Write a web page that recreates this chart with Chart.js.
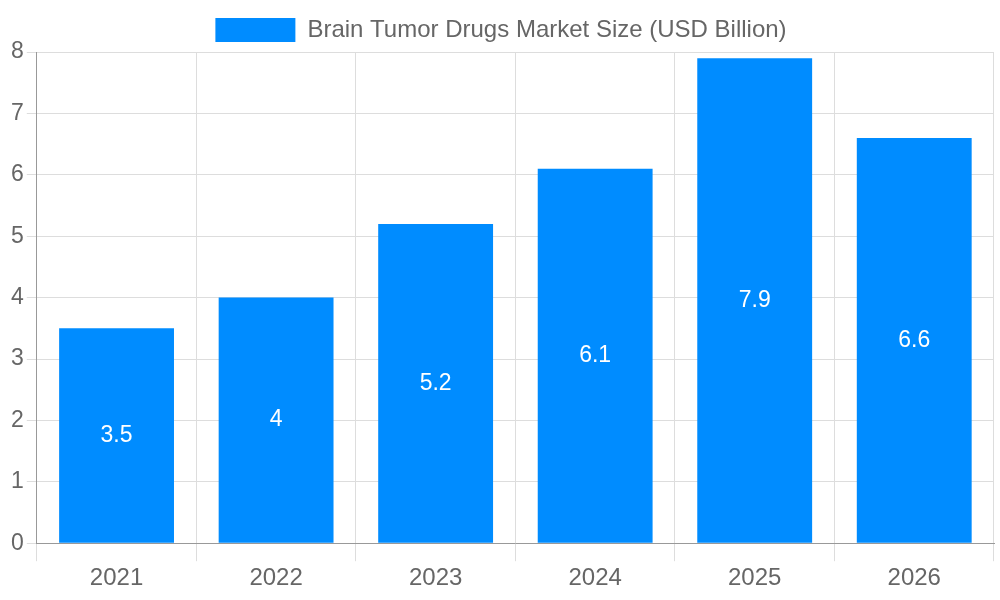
<!DOCTYPE html>
<html><head><meta charset="utf-8">
<script src="https://cdn.jsdelivr.net/npm/chart.js@4/dist/chart.umd.min.js"></script>
<style>html,body{margin:0;padding:0;background:#fff}#wrap{width:1000px;height:600px}</style>
</head><body><div id="wrap"><canvas id="c"></canvas></div>
<script>
// ====== DATA ======
const YEARS = ['2021','2022','2023','2024','2025','2026'];
const MARKET_SIZE = [3.5, 4, 5.2, 6.1, 7.9, 6.6];
const SERIES_LABEL = 'Brain Tumor Drugs Market Size (USD Billion)';

// labels drawn in the middle of each bar
const barLabels = {
  id:'barLabels',
  afterDatasetsDraw(chart){
    const ctx=chart.ctx;
    ctx.save();
    ctx.fillStyle='#fff'; ctx.font='23px "Liberation Sans", Arial, sans-serif';
    ctx.textAlign='center'; ctx.textBaseline='middle';
    chart.getDatasetMeta(0).data.forEach((bar,i)=>{
      ctx.fillText(String(MARKET_SIZE[i]), bar.x, (bar.y+bar.base)/2);
    });
    ctx.restore();
  }
};

Chart.defaults.font.family='"Liberation Sans", Arial, sans-serif';
Chart.defaults.color='#666';
new Chart(document.getElementById('c'),{
  type:'bar',
  data:{labels:YEARS,datasets:[{label:SERIES_LABEL,data:MARKET_SIZE,backgroundColor:'#008cff',borderWidth:0}]},
  options:{
    responsive:true,maintainAspectRatio:false,animation:false,
    layout:{padding:{left:8,right:6,top:8,bottom:4}},
    plugins:{legend:{labels:{boxWidth:80,boxHeight:24,font:{size:24}}},tooltip:{enabled:false}},
    scales:{
      x:{grid:{color:'#ddd',offset:true,tickLength:18},border:{color:'#999'},ticks:{font:{size:24}}},
      y:{min:0,max:8,ticks:{stepSize:1,font:{size:23}},grid:{color:'#ddd',tickLength:10},border:{color:'#999'}}
    }
  },
  plugins:[barLabels]
});
</script></body></html>
